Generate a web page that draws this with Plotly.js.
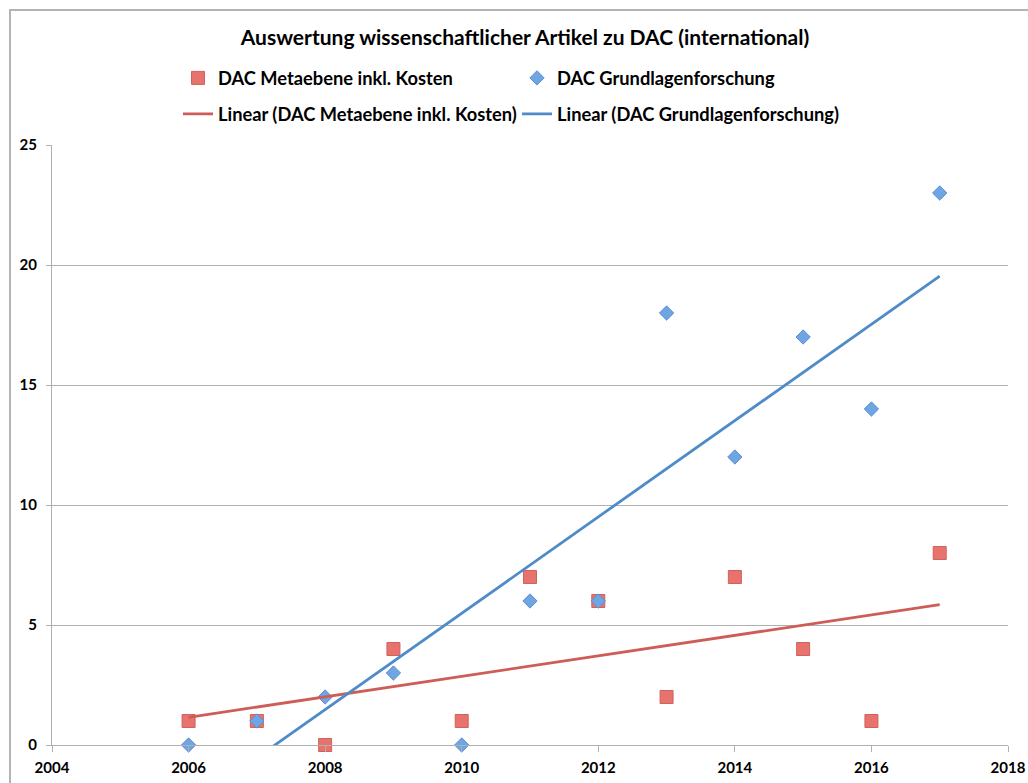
<!DOCTYPE html>
<html>
<head>
<meta charset="utf-8">
<script src="https://cdn.plot.ly/plotly-3.0.1.min.js"></script>
<style>
  html, body { margin: 0; padding: 0; background: #fff; }
  #wrap { position: relative; width: 1028px; height: 783px; overflow: hidden; }
  #chart { width: 1028px; height: 783px; }
  #border { position: absolute; left: 9px; top: 9px; width: 1100px; height: 900px;
            border-left: 2px solid #b4b4b4; border-top: 2px solid #b4b4b4; pointer-events: none; }
</style>
</head>
<body>
<div id="wrap"><div id="chart"></div><div id="border"></div></div>
<script>
const years = [2006, 2007, 2008, 2009, 2010, 2011, 2012, 2013, 2014, 2015, 2016, 2017];
const metaebene = [1, 1, 0, 4, 1, 7, 6, 2, 7, 4, 1, 8];
const grundlagen = [0, 1, 2, 3, 0, 6, 6, 18, 12, 17, 14, 23];
const nameMeta = 'DAC Metaebene inkl. Kosten';
const nameGrund = 'DAC Grundlagenforschung';
const xTicks = [2004, 2006, 2008, 2010, 2012, 2014, 2016, 2018];
const yTicks = [0, 5, 10, 15, 20, 25];

function linFit(xs, ys) {
  const n = xs.length;
  const mx = xs.reduce((a, b) => a + b, 0) / n;
  const my = ys.reduce((a, b) => a + b, 0) / n;
  let sxy = 0, sxx = 0;
  for (let i = 0; i < n; i++) { sxy += (xs[i] - mx) * (ys[i] - my); sxx += (xs[i] - mx) ** 2; }
  const m = sxy / sxx, b = my - m * mx;
  const x0 = xs[0], x1 = xs[n - 1];
  return { x: [x0, x1], y: [m * x0 + b, m * x1 + b] };
}
const fitMeta = linFit(years, metaebene);
const fitGrund = linFit(years, grundlagen);

const FONT = 'Lato, "Open Sans", sans-serif';

const traces = [
  { x: years, y: metaebene, name: nameMeta, type: 'scatter', mode: 'markers', legend: 'legend', cliponaxis: false,
    marker: { symbol: 'square', size: 13, color: '#e8736d', line: { width: 1, color: '#cf625c' } } },
  { x: years, y: grundlagen, name: nameGrund, type: 'scatter', mode: 'markers', legend: 'legend', cliponaxis: false,
    marker: { symbol: 'diamond', size: 11, color: '#6fa5e2', line: { width: 1, color: '#5b90d2' } } },
  { x: fitMeta.x, y: fitMeta.y, name: 'Linear (' + nameMeta + ')', type: 'scatter', mode: 'lines', legend: 'legend2',
    line: { color: '#cf5d57', width: 2.8 } },
  { x: fitGrund.x, y: fitGrund.y, name: 'Linear (' + nameGrund + ')', type: 'scatter', mode: 'lines', legend: 'legend2',
    line: { color: '#4f8bc9', width: 2.8 } }
];

const legendCommon = {
  orientation: 'h', xref: 'container', yref: 'container', xanchor: 'left', yanchor: 'middle',
  entrywidth: 294, entrywidthmode: 'pixels', bgcolor: 'rgba(0,0,0,0)', borderwidth: 0,
  font: { family: FONT, size: 18.3, color: '#000', weight: 'bold' }, itemclick: false
};

const layout = {
  width: 1028, height: 783,
  margin: { l: 52, r: 20, t: 145, b: 38 },
  paper_bgcolor: '#fff', plot_bgcolor: '#fff',
  title: { text: 'Auswertung wissenschaftlicher Artikel zu DAC (international)',
           font: { family: FONT, size: 21, color: '#000', weight: 'bold' },
           xref: 'container', x: 525 / 1028, xanchor: 'center',
           yref: 'container', y: 1 - 38 / 783, yanchor: 'middle' },
  showlegend: true,
  legend: Object.assign({}, legendCommon, { x: 178 / 1028, y: 1 - 78 / 783 }),
  legend2: Object.assign({}, legendCommon, { x: 178 / 1028, y: 1 - 114 / 783 }),
  xaxis: {
    range: [2004, 2018], tickvals: xTicks, ticktext: xTicks.map(String),
    showgrid: false, zeroline: false, showline: true, linecolor: '#b0b0b0', linewidth: 1,
    ticks: 'outside', ticklen: 6, tickcolor: '#b0b0b0', tickwidth: 1,
    tickfont: { family: FONT, size: 15, color: '#000', weight: 'bold' }, ticklabelstandoff: 3
  },
  yaxis: {
    range: [0, 25], tickvals: yTicks, ticktext: yTicks.map(String),
    showgrid: true, gridcolor: '#b0b0b0', gridwidth: 1, zeroline: false,
    showline: true, linecolor: '#b0b0b0', linewidth: 1,
    ticks: 'outside', ticklen: 5, tickcolor: '#b0b0b0', tickwidth: 1,
    tickfont: { family: FONT, size: 15, color: '#000', weight: 'bold' }, ticklabelstandoff: 6
  }
};

Plotly.newPlot('chart', traces, layout, { displayModeBar: false, staticPlot: true });
</script>
</body>
</html>
